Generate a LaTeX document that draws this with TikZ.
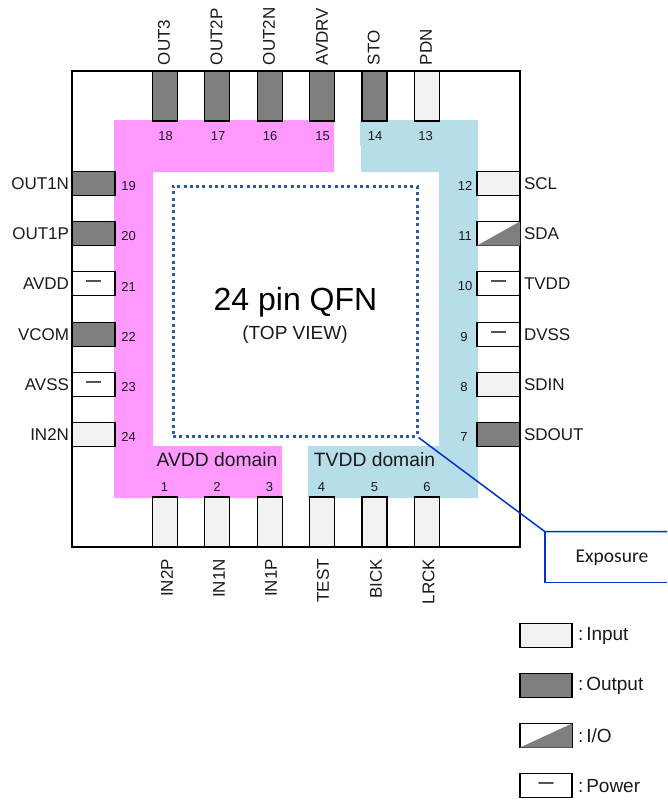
\documentclass[tikz,border=0pt]{standalone}
\usepackage{fontspec}
\setmainfont{Liberation Sans}
\newfontfamily\calfont{Carlito}
\definecolor{pinkdom}{HTML}{FF99FF}
\definecolor{bluedom}{HTML}{B7DDE8}
\definecolor{outgray}{HTML}{7F7F7F}
\definecolor{ingray}{HTML}{F2F2F2}
\definecolor{expdot}{HTML}{2F5C96}
\definecolor{leader}{HTML}{0033CC}
\definecolor{txt}{HTML}{1A1A1A}
\newcommand{\fs}[1]{\fontsize{#1}{#1}\selectfont}
\newcommand{\pwrdash}{\raisebox{-4.5pt}{\bfseries —}}
\tikzset{
  pinbox/.style={draw=black,line width=1.9pt,inner sep=0pt,outer sep=0pt,text=txt},
  hpin/.style={pinbox,minimum width=43pt,minimum height=24pt},
  vpin/.style={pinbox,minimum width=25pt,minimum height=50pt},
  legpin/.style={pinbox,minimum width=52pt,minimum height=24pt},
  inpin/.style={fill=ingray},
  outpin/.style={fill=outgray},
  iopin/.style={fill=white},
  pwrpin/.style={fill=white,font=\fs{15}},
  lbl/.style={inner sep=0pt,outer sep=0pt,font=\fs{17},text=txt},
  leglbl/.style={inner sep=0pt,outer sep=0pt,font=\fs{19},text=txt},
  num/.style={inner sep=0pt,outer sep=0pt,font=\fs{13},text=txt},
  dom/.style={inner sep=0pt,outer sep=0pt,font=\fs{19.3},text=txt},
}
\begin{document}
\begin{tikzpicture}[x=1pt,y=-1pt]
\useasboundingbox (0,0) rectangle (667,803);
% package
\node[draw=black,line width=2pt,fill=white,minimum width=448pt,minimum height=476pt,inner sep=0pt] (pkg) at (296,309) {};
% power domains
\fill[pinkdom] (114,120) -- (334,120) -- (334,172) -- (153,172) -- (153,446) -- (282,446) -- (282,498) -- (114,498) -- cycle;
\fill[bluedom] (360,120) -- (478,120) -- (478,498) -- (308,498) -- (308,446) -- (439,446) -- (439,172) -- (361,172) -- (361,145) -- (360,145) -- cycle;
% exposure area
\node[draw=expdot,line width=3pt,dash pattern=on 3pt off 3.3pt,minimum width=244pt,minimum height=250pt,inner sep=0pt] (pad) at (295,311) {};
% top pins
\foreach \n/\x/\k in {p18/165/outpin,p17/217/outpin,p16/270/outpin,p15/322/outpin,p14/374.5/outpin,p13/427/inpin}
  \node[vpin,\k] (\n) at (\x,96) {};
% bottom pins
\foreach \n/\x in {p1/165,p2/217,p3/270,p4/322,p5/374.5,p6/427}
  \node[vpin,inpin] (\n) at (\x,522) {};
% left pins
\foreach \n/\y/\k/\t in {p19/183.5/outpin/,p20/233.5/outpin/,p21/283.5/pwrpin/\pwrdash,p22/334.5/outpin/,p23/384.5/pwrpin/\pwrdash,p24/434.5/inpin/}
  \node[hpin,\k] (\n) at (93.5,\y) {\t};
% right pins
\foreach \n/\y/\k/\t in {p12/183.5/inpin/,p11/233.5/iopin/,p10/283.5/pwrpin/\pwrdash,p9/334.5/pwrpin/\pwrdash,p8/384.5/inpin/,p7/434.5/outpin/}
  \node[hpin,\k] (\n) at (498.5,\y) {\t};
\fill[outgray] (p11.south west) -- (p11.north east) -- (p11.south east) -- cycle;
% top labels
\foreach \n/\t/\x in {p18/OUT3/164,p17/OUT2P/216.5,p16/OUT2N/269,p15/AVDRV/322,p14/STO/373.7,p13/PDN/426}
  \node[lbl,rotate=90,anchor=west] (l\n) at (\x,65) {\t};
% bottom labels
\foreach \n/\t/\x in {p1/IN2P/167,p2/IN1N/219,p3/IN1P/271,p4/TEST/323,p5/BICK/376,p6/LRCK/428.5}
  \node[lbl,rotate=90,anchor=east] (l\n) at (\x,559) {\t};
% left labels
\foreach \n/\t/\y in {p19/OUT1N/183.5,p20/OUT1P/233.5,p21/AVDD/284,p22/VCOM/334.5,p23/AVSS/384.5,p24/IN2N/434.5}
  \node[lbl,anchor=east] (l\n) at (69,\y) {\t};
% right labels
\foreach \n/\t/\y in {p12/SCL/183.5,p11/SDA/233.5,p10/TVDD/284,p9/DVSS/334.5,p8/SDIN/384.5,p7/SDOUT/434.5}
  \node[lbl,anchor=west] (l\n) at (524,\y) {\t};
% numbers
\foreach \t/\x in {18/165.5,17/218,16/270,15/322.5,14/375,13/425.5}
  \node[num] (n\t) at (\x,136.5) {\t};
\foreach \t/\x in {1/164.5,2/217,3/269.5,4/321.5,5/374.5,6/427}
  \node[num] (n\t) at (\x,487) {\t};
\foreach \t/\y in {19/185.6,20/236,21/287,22/337,23/387,24/437}
  \node[num] (n\t) at (128.5,\y) {\t};
\foreach \t/\y/\x in {12/186/465,11/236/465,10/286/465,9/337/464,8/387/464,7/437/464}
  \node[num] (n\t) at (\x,\y) {\t};
% centre and domain text
\node[inner sep=0pt,font=\fs{32},text=black] (title) at (295.5,302) {24 pin QFN};
\node[inner sep=0pt,font=\fs{19},text=txt] (sub) at (295,335) {(TOP VIEW)};
\node[dom] (avdd) at (217,460) {AVDD domain};
\node[dom] (tvdd) at (374.5,460) {TVDD domain};
% exposure callout
\coordinate (ca) at (545,531.7);
\coordinate (cb) at (545,582.7);
\coordinate (ce) at (667,531.7);
\coordinate (cf) at (667,582.7);
\draw[leader,line width=1.5pt] (pad.south east) -- (ca) -- (ce);
\draw[leader,line width=1.5pt] (ca) -- (cb) -- (cf);
\node[inner sep=0pt,font=\calfont\fs{19.5},text=txt] (exp) at (612,558) {Exposure};
% legend
\node[legpin,inpin] (lg1) at (546,635.5) {};
\node[legpin,outpin] (lg2) at (546,685.5) {};
\node[legpin,iopin] (lg3) at (546,735.5) {};
\node[legpin,pwrpin] (lg4) at (546,785.5) {\pwrdash};
\fill[outgray] (lg3.south west) -- (lg3.north east) -- (lg3.south east) -- cycle;
\node[leglbl,anchor=west] (t1) at (578,636) {:\kern3ptInput};
\node[leglbl,anchor=west] (t2) at (578,686) {:\kern3ptOutput};
\node[leglbl,anchor=west] (t3) at (578,736) {:\kern3ptI/O};
\node[leglbl,anchor=west] (t4) at (578,786) {:\kern3ptPower};
\end{tikzpicture}
\end{document}
